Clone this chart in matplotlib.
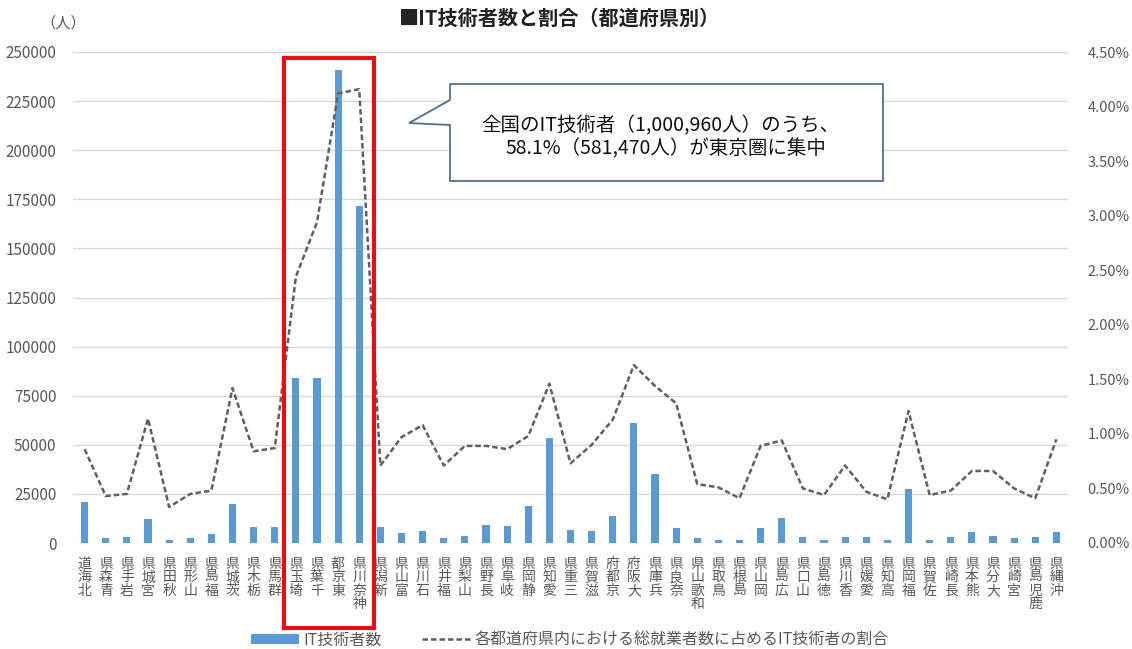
import matplotlib
matplotlib.use("Agg")
import matplotlib.pyplot as plt
from matplotlib.patches import Rectangle, Polygon, Patch
from matplotlib.lines import Line2D
from matplotlib.ticker import FuncFormatter

plt.rcParams['font.family'] = ['Noto Sans CJK JP', 'DejaVu Sans']

# Data
prefectures = ["北海道", "青森県", "岩手県", "宮城県", "秋田県", "山形県", "福島県", "茨城県",
               "栃木県", "群馬県", "埼玉県", "千葉県", "東京都", "神奈川県", "新潟県", "富山県",
               "石川県", "福井県", "山梨県", "長野県", "岐阜県", "静岡県", "愛知県", "三重県",
               "滋賀県", "京都府", "大阪府", "兵庫県", "奈良県", "和歌山県", "鳥取県", "島根県",
               "岡山県", "広島県", "山口県", "徳島県", "香川県", "愛媛県", "高知県", "福岡県",
               "佐賀県", "長崎県", "熊本県", "大分県", "宮崎県", "鹿児島県", "沖縄県"]
it_workers = [20800, 2500, 2900, 12200, 1500, 2500, 4400, 19900,
              8100, 8100, 84100, 84100, 240800, 171700, 7900, 5100,
              6300, 2700, 3500, 9300, 8600, 18600, 53700, 6400,
              6300, 13500, 61100, 35000, 7600, 2400, 1500, 1500,
              7800, 12500, 3000, 1500, 3000, 3000, 1400, 27400,
              1700, 3000, 5600, 3700, 2500, 3000, 5700]
it_share = [0.86, 0.43, 0.45, 1.14, 0.33, 0.45, 0.48, 1.42,
            0.84, 0.87, 2.44, 2.94, 4.12, 4.16, 0.71, 0.97,
            1.08, 0.71, 0.89, 0.89, 0.86, 0.98, 1.46, 0.73,
            0.90, 1.13, 1.63, 1.44, 1.28, 0.54, 0.51, 0.41,
            0.89, 0.94, 0.50, 0.44, 0.71, 0.47, 0.40, 1.21,
            0.44, 0.48, 0.66, 0.66, 0.50, 0.41, 0.95]

W, H = 1132, 649
BLUE = "#5B9BD5"
GRAY = "#595959"

def fx(x):
    return x / W

def fy(y):
    return 1 - y / H

fig = plt.figure(figsize=(W / 100, H / 100), dpi=100)
fig.patch.set_facecolor('white')
ax = fig.add_axes([fx(73), fy(543), fx(1068) - fx(73), fy(52) - fy(543)])
ax2 = ax.twinx()

xs = list(range(len(prefectures)))
ax.bar(xs, it_workers, width=0.34, color=BLUE, zorder=2)
ax2.plot(xs, it_share, color='#606060', lw=1.8, linestyle=(0, (2.2, 1.2)), zorder=3)

ax.set_xlim(-0.55, len(prefectures) - 0.45)
ax.set_ylim(0, 250000)
ax.set_yticks(range(0, 250001, 25000))
ax2.set_ylim(0, 4.5)
ax2.set_yticks([i * 0.5 for i in range(10)])
ax2.yaxis.set_major_formatter(FuncFormatter(lambda v, p: f"{v:.2f}%"))

ax.yaxis.grid(True, color='#D9D9D9', lw=1)
ax.set_axisbelow(True)
for a in (ax, ax2):
    for s in a.spines.values():
        s.set_visible(False)
    a.tick_params(length=0, labelcolor=GRAY)
ax.tick_params(axis='y', pad=12, labelsize=11)
ax2.tick_params(axis='y', pad=14, labelsize=10.5)

# stacked labels: the source stacks the characters last-to-first, top-aligned
ax.set_xticks(xs)
ax.set_xticklabels(["\n".join(reversed(p)) for p in prefectures], fontsize=10,
                   linespacing=0.95, va='top', color=GRAY)
ax.tick_params(axis='x', pad=10)

# Titles
fig.text(fx(560), fy(18), "■IT技術者数と割合（都道府県別）", ha='center', va='center',
         fontsize=14.5, fontweight='bold', color='#222222')
fig.text(fx(63), fy(23), "（人）", ha='center', va='center', fontsize=11, color=GRAY)

# Red highlight box around Tokyo area
fig.patches.append(Rectangle((fx(284), fy(628)), fx(374) - fx(284), fy(58) - fy(628),
                             transform=fig.transFigure, fill=False, edgecolor='#FF0000',
                             lw=2.8, zorder=10))

# Callout
callout = [(450, 84), (883, 84), (883, 181), (450, 181), (450, 125), (409, 123), (450, 100)]
fig.patches.append(Polygon([(fx(x), fy(y)) for x, y in callout], closed=True,
                           transform=fig.transFigure, facecolor='white',
                           edgecolor='#4F6F93', lw=1.3, zorder=10))
fig.text(fx(660), fy(126), "全国のIT技術者（1,000,960人）のうち、", ha='center', va='center',
         fontsize=14, color='#111111', zorder=11)
fig.text(fx(666), fy(149), "58.1%（581,470人）が東京圏に集中", ha='center', va='center',
         fontsize=14, color='#111111', zorder=11)

# Legend
handles = [Patch(facecolor=BLUE, edgecolor='none'),
           Line2D([0], [0], color='#606060', lw=1.8, linestyle=(0, (2.2, 1.2)))]
labels = ["IT技術者数", "各都道府県内における総就業者数に占めるIT技術者の割合"]
fig.legend(handles, labels, loc='center', bbox_to_anchor=(fx(570), fy(640)), ncol=2,
           frameon=False, fontsize=11.5, handlelength=3.0, handleheight=0.55,
           columnspacing=2.5, handletextpad=0.3, labelcolor=GRAY)

fig.savefig("out.png", dpi=100, facecolor='white')
